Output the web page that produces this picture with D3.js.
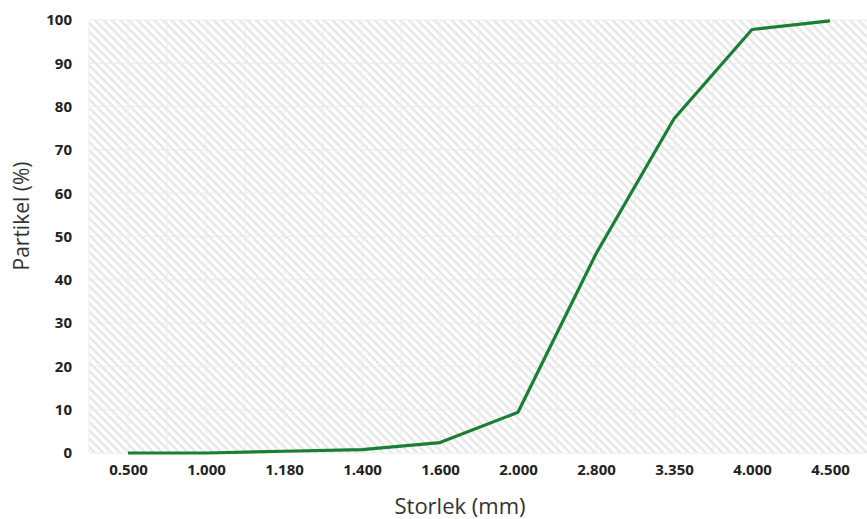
<!DOCTYPE html>
<html>
<head>
<meta charset="utf-8">
<script src="https://cdn.jsdelivr.net/npm/d3@7"></script>
<style>
  body { margin: 0; background: #fff; }
  text { font-family: "Open Sans", "Liberation Sans", sans-serif; }
</style>
</head>
<body>
<div id="chart-area"></div>
<script>
// sieve sizes and cumulative passing
var sizes = ["0.500", "1.000", "1.180", "1.400", "1.600", "2.000", "2.800", "3.350", "4.000", "4.500"];
var passing = [0, 0, 0.4, 0.8, 2.4, 9.4, 46, 77.2, 97.8, 99.8];
var yTicks = [0, 10, 20, 30, 40, 50, 60, 70, 80, 90, 100];

var width = 867, height = 519;
var margin = {top: 20, right: -2, bottom: 66, left: 89};

var svg = d3.select("#chart-area").append("svg").attr("width", width).attr("height", height);

var defs = svg.append("defs");
var pat = defs.append("pattern").attr("id", "hatch").attr("patternUnits", "userSpaceOnUse")
    .attr("width", 6).attr("height", 6).attr("patternTransform", "rotate(45)");
pat.append("rect").attr("width", 6).attr("height", 6).attr("fill", "#fff");
pat.append("rect").attr("width", 6).attr("height", 2.4).attr("fill", "#e6e6e6");

var x = d3.scalePoint().domain(sizes).range([margin.left, width - margin.right]).padding(0.5);
var y = d3.scaleLinear().domain([0, 100]).range([height - margin.bottom, margin.top]);

var plotW = width - margin.right - margin.left;
svg.append("rect").attr("x", margin.left).attr("y", margin.top)
    .attr("width", plotW).attr("height", y(0) - y(100)).attr("fill", "url(#hatch)");

// grid: horizontal at each tick, vertical every half step
var step = x.step();
var vlines = d3.range(0, sizes.length * 2 + 1).map(function(i) { return margin.left + i * step / 2; });
svg.append("g").selectAll("line").data(vlines).enter().append("line")
    .attr("x1", function(d) { return d; }).attr("x2", function(d) { return d; })
    .attr("y1", y(100)).attr("y2", y(0))
    .attr("stroke", "#ececec").attr("stroke-width", 1);
svg.append("g").selectAll("line").data(yTicks).enter().append("line")
    .attr("x1", margin.left).attr("x2", margin.left + plotW)
    .attr("y1", function(d) { return y(d); }).attr("y2", function(d) { return y(d); })
    .attr("stroke", "#ececec").attr("stroke-width", 1);

var yAxis = d3.axisLeft(y).tickValues(yTicks).tickSize(0).tickPadding(17);
var yg = svg.append("g").attr("transform", "translate(" + margin.left + ",0)").call(yAxis);
yg.select(".domain").remove();
yg.selectAll("text").attr("font-size", "15px").attr("font-weight", "bold").attr("fill", "#222")
    .style("font-family", "'Open Sans', sans-serif");

var xAxis = d3.axisBottom(x).tickSize(0).tickPadding(11);
var xg = svg.append("g").attr("transform", "translate(0," + y(0) + ")").call(xAxis);
xg.select(".domain").remove();
xg.selectAll("text").attr("font-size", "15px").attr("font-weight", "bold").attr("fill", "#222")
    .style("font-family", "'Open Sans', sans-serif");

var line = d3.line().x(function(d, i) { return x(sizes[i]); }).y(function(d) { return y(d); });
svg.append("path").datum(passing).attr("d", line).attr("fill", "none")
    .attr("stroke", "#187f33").attr("stroke-width", 3.2).attr("stroke-linejoin", "round");

svg.append("text").attr("x", 460).attr("y", 514).attr("text-anchor", "middle")
    .attr("font-size", "22px").attr("fill", "#333").text("Storlek (mm)");
svg.append("text").attr("transform", "translate(29,216) rotate(-90)")
    .attr("text-anchor", "middle").attr("font-size", "21px").attr("fill", "#333").text("Partikel (%)");
</script>
</body>
</html>
